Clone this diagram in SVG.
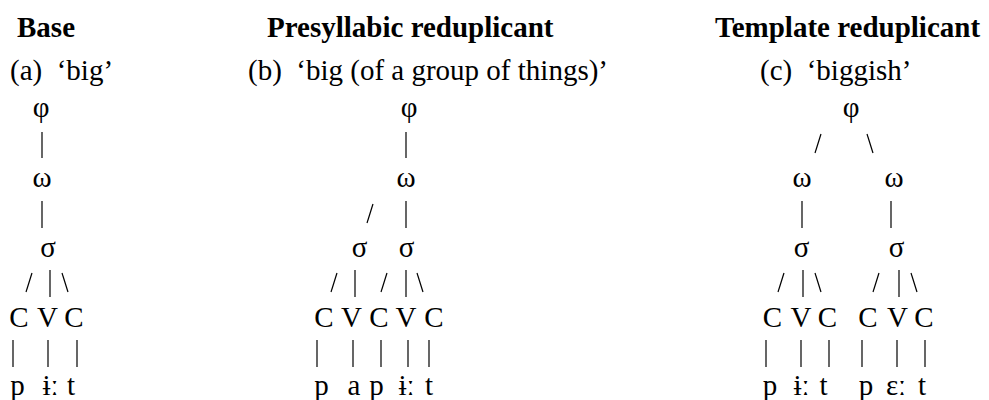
<svg xmlns="http://www.w3.org/2000/svg" width="989" height="400" viewBox="0 0 989 400">
<style>
.h{font-family:"Liberation Serif","Times New Roman",serif;font-weight:bold;font-size:29px;fill:#000}
.s{font-family:"Liberation Serif","Times New Roman",serif;font-size:29px;fill:#000;white-space:pre}
.n{font-family:"Liberation Serif","DejaVu Serif",serif;font-size:29px;fill:#000;text-anchor:middle}
#connectors line{stroke:#000;stroke-width:1.2;stroke-linecap:butt}
</style>
<rect width="989" height="400" fill="#fff"/>
<g id="headings">
<text class="h" x="17" y="37">Base</text>
<text class="h" x="267" y="37">Presyllabic reduplicant</text>
<text class="h" x="715" y="37">Template reduplicant</text>
<text class="s" x="10" y="80" xml:space="preserve">(a)  ‘big’</text>
<text class="s" x="248" y="80" xml:space="preserve">(b)  ‘big (of a group of things)’</text>
<text class="s" x="760" y="80" xml:space="preserve">(c)  ‘biggish’</text>
</g>
<g id="connectors">
<!-- (a) -->
<line x1="42" y1="132" x2="42" y2="158"/>
<line x1="42" y1="201" x2="42" y2="228"/>
<line x1="26" y1="292" x2="32" y2="273"/>
<line x1="50" y1="270" x2="50" y2="297"/>
<line x1="62" y1="273" x2="68" y2="292"/>
<line x1="13" y1="340" x2="13" y2="367"/>
<line x1="48" y1="340" x2="48" y2="367"/>
<line x1="77" y1="340" x2="77" y2="367"/>
<!-- (b) -->
<line x1="406" y1="132" x2="406" y2="158"/>
<line x1="367" y1="223" x2="373" y2="204"/>
<line x1="406" y1="201" x2="406" y2="228"/>
<line x1="331" y1="292" x2="337" y2="273"/>
<line x1="355" y1="270" x2="355" y2="297"/>
<line x1="381" y1="292" x2="387" y2="273"/>
<line x1="406" y1="270" x2="406" y2="297"/>
<line x1="417" y1="273" x2="423" y2="292"/>
<line x1="317" y1="340" x2="317" y2="367"/>
<line x1="353" y1="340" x2="353" y2="367"/>
<line x1="381" y1="340" x2="381" y2="367"/>
<line x1="408" y1="340" x2="408" y2="367"/>
<line x1="429" y1="340" x2="429" y2="367"/>
<!-- (c) -->
<line x1="815" y1="153" x2="821" y2="134"/>
<line x1="867" y1="134" x2="873" y2="153"/>
<line x1="802" y1="201" x2="802" y2="228"/>
<line x1="891" y1="201" x2="891" y2="228"/>
<line x1="778" y1="292" x2="784" y2="273"/>
<line x1="803" y1="270" x2="803" y2="297"/>
<line x1="815" y1="273" x2="821" y2="292"/>
<line x1="873" y1="292" x2="879" y2="273"/>
<line x1="899" y1="270" x2="899" y2="297"/>
<line x1="911" y1="273" x2="917" y2="292"/>
<line x1="766" y1="340" x2="766" y2="367"/>
<line x1="801" y1="340" x2="801" y2="367"/>
<line x1="829" y1="340" x2="829" y2="367"/>
<line x1="862" y1="340" x2="862" y2="367"/>
<line x1="897" y1="340" x2="897" y2="367"/>
<line x1="925" y1="340" x2="925" y2="367"/>
</g>
<!-- (a) nodes -->
<g id="a-phi"><text class="n" x="41" y="117">φ</text></g>
<g id="a-omega"><text class="n" x="42" y="187">ω</text></g>
<g id="a-sigma"><text class="n" x="48" y="257">σ</text></g>
<g id="a-C1"><text class="n" x="19" y="327">C</text></g>
<g id="a-V1"><text class="n" x="47.5" y="327">V</text></g>
<g id="a-C2"><text class="n" x="74" y="327">C</text></g>
<g id="a-p"><text class="n" x="17.5" y="395">p</text></g>
<g id="a-i"><text class="n" x="50.5" y="395">ɨː</text></g>
<g id="a-t"><text class="n" x="71" y="395">t</text></g>
<!-- (b) nodes -->
<g id="b-phi"><text class="n" x="409" y="117">φ</text></g>
<g id="b-omega"><text class="n" x="406" y="187">ω</text></g>
<g id="b-sigma1"><text class="n" x="359.5" y="257">σ</text></g>
<g id="b-sigma2"><text class="n" x="406.5" y="257">σ</text></g>
<g id="b-C1"><text class="n" x="324" y="327">C</text></g>
<g id="b-V1"><text class="n" x="351.5" y="327">V</text></g>
<g id="b-C2"><text class="n" x="379" y="327">C</text></g>
<g id="b-V2"><text class="n" x="406" y="327">V</text></g>
<g id="b-C3"><text class="n" x="434" y="327">C</text></g>
<g id="b-p1"><text class="n" x="321.5" y="395">p</text></g>
<g id="b-a"><text class="n" x="354" y="395">a</text></g>
<g id="b-p2"><text class="n" x="376.5" y="395">p</text></g>
<g id="b-i"><text class="n" x="406.5" y="395">ɨː</text></g>
<g id="b-t"><text class="n" x="429" y="395">t</text></g>
<!-- (c) nodes -->
<g id="c-phi"><text class="n" x="851" y="117">φ</text></g>
<g id="c-omega1"><text class="n" x="802" y="187">ω</text></g>
<g id="c-omega2"><text class="n" x="894" y="187">ω</text></g>
<g id="c-sigma1"><text class="n" x="801.5" y="257">σ</text></g>
<g id="c-sigma2"><text class="n" x="896.5" y="257">σ</text></g>
<g id="c-C1"><text class="n" x="772.5" y="327">C</text></g>
<g id="c-V1"><text class="n" x="801" y="327">V</text></g>
<g id="c-C2"><text class="n" x="827.5" y="327">C</text></g>
<g id="c-C3"><text class="n" x="868" y="327">C</text></g>
<g id="c-V2"><text class="n" x="897.5" y="327">V</text></g>
<g id="c-C4"><text class="n" x="924" y="327">C</text></g>
<g id="c-p1"><text class="n" x="770" y="395">p</text></g>
<g id="c-i"><text class="n" x="801.5" y="395">ɨː</text></g>
<g id="c-t1"><text class="n" x="823.5" y="395">t</text></g>
<g id="c-p2"><text class="n" x="866" y="395">p</text></g>
<g id="c-e"><text class="n" x="896" y="395">ɛː</text></g>
<g id="c-t2"><text class="n" x="922" y="395">t</text></g>
</svg>
